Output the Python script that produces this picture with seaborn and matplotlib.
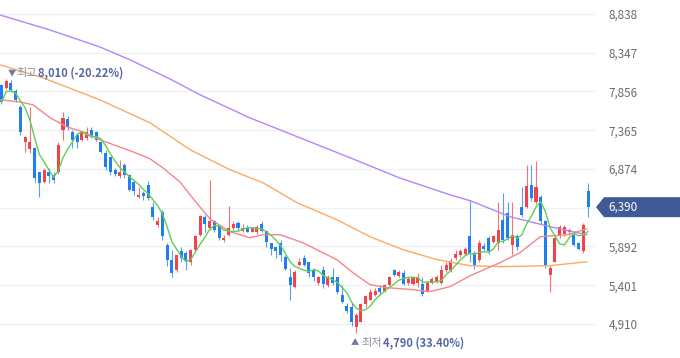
import numpy as np
import pandas as pd
import matplotlib
matplotlib.use("Agg")
import matplotlib.pyplot as plt
import matplotlib.transforms as mtransforms
from matplotlib.patches import Polygon
import seaborn as sns

# ---------------- data ----------------
opens = [7940, 7900, 7960, 7860, 7660, 7210, 7130, 7140, 6830, 6710,
         6840, 6800, 6840, 7370, 7510, 7340, 7310, 7240, 7270, 7370,
         7340, 7210, 7080, 7020, 6860, 6790, 6930, 6800, 6710, 6520,
         6570, 6670, 6390, 6170, 6330, 5910, 5720, 5590, 5830, 5810,
         5690, 5850, 6040, 6270, 6130, 6210, 6160, 5970, 6040, 6130,
         6190, 6090, 6130, 6080, 6070, 6180, 6090, 5930, 5880, 5940,
         5760, 5510, 5380, 5660, 5750, 5690, 5590, 5430, 5590, 5400,
         5500, 5500, 5280, 5140, 5120, 4870, 4940, 5160, 5220, 5280,
         5370, 5330, 5410, 5600, 5520, 5560, 5430, 5420, 5430, 5420,
         5330, 5430, 5450, 5430, 5590, 5590, 5750, 5780, 5800, 6020,
         5810, 5720, 5900, 6000, 5950, 5930, 6230, 6320, 5910, 6030,
         6390, 6390, 6670, 6450, 6520, 6210, 5530, 5700, 6030, 6050,
         6070, 6040, 5930, 5830, 6590]
highs = [7950, 8010, 8000, 7890, 7690, 7290, 7660, 7150, 6840, 6890,
         6890, 6830, 7210, 7600, 7550, 7370, 7330, 7360, 7400, 7410,
         7360, 7220, 7120, 7030, 6890, 6990, 6950, 6810, 6740, 6640,
         6600, 6720, 6450, 6260, 6360, 5930, 5850, 5790, 5890, 5830,
         5860, 6040, 6290, 6290, 6740, 6230, 6170, 6040, 6410, 6210,
         6210, 6180, 6160, 6140, 6170, 6210, 6100, 5940, 5890, 5970,
         5790, 5620, 5590, 5750, 5780, 5700, 5620, 5520, 5640, 5530,
         5620, 5510, 5410, 5170, 5180, 5050, 5180, 5280, 5350, 5360,
         5410, 5420, 5520, 5610, 5590, 5590, 5510, 5520, 5560, 5510,
         5450, 5510, 5530, 5660, 5690, 5740, 5850, 5860, 5890, 6480,
         5840, 5970, 5930, 6030, 6040, 6460, 6570, 6450, 6460, 6050,
         6640, 6930, 6930, 6970, 6550, 6230, 5660, 6030, 6160, 6170,
         6130, 6070, 5950, 6190, 6700]
lows = [7700, 7890, 7850, 7720, 7310, 7090, 7080, 6710, 6520, 6690,
        6700, 6700, 6810, 7240, 7370, 7140, 7140, 7230, 7240, 7270,
        7230, 7080, 6860, 6800, 6790, 6760, 6760, 6590, 6550, 6510,
        6480, 6480, 6230, 6140, 5980, 5640, 5510, 5570, 5700, 5600,
        5660, 5830, 6030, 6070, 6100, 6080, 5980, 5950, 6030, 6100,
        6090, 6070, 6070, 6070, 6050, 6070, 5890, 5780, 5740, 5710,
        5600, 5220, 5370, 5640, 5640, 5500, 5460, 5410, 5370, 5380,
        5410, 5290, 5180, 5050, 4890, 4790, 4930, 5130, 5210, 5260,
        5280, 5310, 5400, 5520, 5500, 5400, 5410, 5400, 5380, 5260,
        5320, 5420, 5430, 5420, 5570, 5570, 5720, 5760, 5790, 5690,
        5610, 5700, 5840, 5800, 5940, 5850, 5940, 5980, 5780, 5850,
        6270, 6380, 6470, 6430, 6180, 5620, 5310, 5690, 6000, 6030,
        6040, 5900, 5850, 5810, 6260]
closes = [7720, 7990, 7880, 7750, 7340, 7280, 7220, 6760, 6700, 6860,
          6780, 6740, 7180, 7520, 7410, 7240, 7220, 7340, 7340, 7280,
          7240, 7090, 6900, 6830, 6810, 6840, 6800, 6610, 6590, 6550,
          6530, 6510, 6260, 6210, 6030, 5720, 5560, 5780, 5740, 5710,
          5850, 6020, 6280, 6180, 6210, 6100, 6000, 6000, 6130, 6180,
          6120, 6130, 6080, 6130, 6140, 6090, 5950, 5860, 5830, 5780,
          5610, 5410, 5570, 5700, 5660, 5550, 5500, 5500, 5420, 5510,
          5430, 5320, 5190, 5080, 4930, 5030, 5160, 5260, 5320, 5330,
          5310, 5410, 5500, 5530, 5570, 5420, 5480, 5500, 5510, 5290,
          5430, 5480, 5510, 5590, 5660, 5710, 5800, 5840, 5860, 5800,
          5660, 5940, 5860, 5830, 6020, 6100, 5980, 6000, 6040, 5880,
          6290, 6660, 6500, 6640, 6210, 5660, 5620, 6000, 6140, 6140,
          6100, 5910, 5860, 6160, 6390]

# moving-average lines (position in candle index, value)
ma20_pos = [-0.3, 3.9, 6.7, 10.3, 13.8, 17.2, 20.8, 27.8, 31.4, 34.1, 37.7, 41.3,
            44.1, 48.3, 52.5, 55.3, 58.9, 63.7, 70.9, 74.3, 77.9, 81.5, 87.0, 90.6,
            94.8, 99.1, 105.4, 109.6, 113.9, 116.6, 119.6, 123.8]
ma20_val = [7750, 7724, 7686, 7522, 7408, 7345, 7243, 7092, 7003, 6889, 6712, 6440,
            6240, 6079, 6003, 6041, 6041, 5940, 5725, 5560, 5408, 5370, 5345, 5320,
            5383, 5522, 5687, 5813, 6016, 6028, 6041, 6117]
ma60_pos = [-0.3, 8.8, 20.8, 31.4, 39.9, 48.3, 55.3, 62.5, 70.9, 77.9, 84.9, 92.1,
            99.0, 105.4, 116.0, 123.8]
ma60_val = [8193, 8028, 7750, 7459, 7117, 6864, 6699, 6446, 6231, 6016, 5851, 5725,
            5649, 5636, 5649, 5699]
ma120_pos = [-0.3, 10.25, 20.8, 27.2, 35.6, 42.0, 52.5, 63.1, 73.7, 84.2, 94.8, 99.1,
             107.5, 116.0, 123.8]
ma120_val = [8825, 8635, 8420, 8256, 8015, 7813, 7522, 7269, 7016, 6760, 6547, 6472,
             6269, 6142, 6041]

ytick_vals = [4910, 5401, 5892, 6383, 6874, 7365, 7856, 8347, 8838]
# the 6,383 label sits under the last-price tag in the reference, so it is not shown
ytick_labels = ["4,910", "5,401", "5,892", "", "6,874", "7,365", "7,856", "8,347", "8,838"]
last_price = 6390
last_label = "6,390"
high_text = "8,010 (-20.22%)"
low_text = "4,790 (33.40%)"

# ---------------- style ----------------
RED = "#f0434a"
BLUE = "#1f7fef"
C_MA5 = "#5fcf55"
C_MA20 = "#f7858a"
C_MA60 = "#fcaa62"
C_MA120 = "#b585f7"

sns.set_theme(style="white")
plt.rcParams['font.family'] = ['Noto Sans CJK KR', 'DejaVu Sans']

W, H = 680, 358
fig = plt.figure(figsize=(W / 100, H / 100), dpi=100)
AX_RIGHT = 596
ax = fig.add_axes([0, 0, AX_RIGHT / W, 1])

df = pd.DataFrame({"open": opens, "high": highs, "low": lows, "close": closes})
df["idx"] = np.arange(len(df))
df["ma5"] = df["close"].rolling(5, min_periods=1).mean()
up = df["close"] >= df["open"]
colors = np.where(up, RED, BLUE)

ymin, ymax = 4479, 9015
ax.set_ylim(ymin, ymax)
ax.set_xlim(-0.317, (AX_RIGHT - 1.5) / 4.73)

# grid
for v in ytick_vals:
    ax.axhline(v, color="#eef0f6", linewidth=0.9, zorder=0)

# wicks and bodies
ax.vlines(df["idx"], df["low"], df["high"], colors=colors, linewidth=0.8, alpha=0.75, zorder=2)
body_low = np.minimum(df["open"], df["close"])
body_h = np.maximum((df["close"] - df["open"]).abs(), 18)
ax.bar(df["idx"], body_h, bottom=body_low, width=0.64, color=colors, linewidth=0, zorder=3)

# moving averages
sns.lineplot(x=ma120_pos, y=ma120_val, ax=ax, color=C_MA120, linewidth=1.0, zorder=4)
sns.lineplot(x=ma60_pos, y=ma60_val, ax=ax, color=C_MA60, linewidth=1.0, zorder=4)
sns.lineplot(x=ma20_pos, y=ma20_val, ax=ax, color=C_MA20, linewidth=1.0, zorder=4)
sns.lineplot(x=df["idx"], y=df["ma5"], ax=ax, color=C_MA5, linewidth=1.0, zorder=5)

# axes styling
for s in ax.spines.values():
    s.set_visible(False)
ax.set_xticks([])
ax.yaxis.tick_right()
ax.set_yticks(ytick_vals, ytick_labels)
ax.tick_params(axis="y", length=0, pad=9, labelsize=8.4, labelcolor="#6b6b6b")
ax.set_xlabel("")
ax.set_ylabel("")

# last price tag
blend = mtransforms.blended_transform_factory(fig.transFigure, ax.transData)
hh = 10 / (H / (ymax - ymin))
tag = Polygon([(AX_RIGHT / W, last_price), (604 / W, last_price + hh), (1.0, last_price + hh),
               (1.0, last_price - hh), (604 / W, last_price - hh)],
              closed=True, transform=blend, facecolor="#3f5b97", edgecolor="none",
              clip_on=False, zorder=10)
fig.add_artist(tag)
fig.text(608 / W, last_price, last_label, transform=blend, color="white",
         fontsize=8.4, va="center", ha="left", zorder=11)

# high / low annotations
hy = 1 - 73 / H
fig.text(8 / W, hy, "▼", fontsize=6, color="#6f7ba0", va="center", ha="left")
fig.text(16 / W, hy, "최고", fontsize=8, color="#8a8fa3", va="center", ha="left")
fig.text(38 / W, hy, high_text, fontsize=8, color="#5567a3", fontweight="bold",
         va="center", ha="left")
ly = 1 - 343 / H
fig.text(351 / W, ly, "▲", fontsize=6, color="#6f7ba0", va="center", ha="left")
fig.text(361 / W, ly, "최저", fontsize=8, color="#8a8fa3", va="center", ha="left")
fig.text(383 / W, ly, low_text, fontsize=8, color="#5567a3", fontweight="bold",
         va="center", ha="left")

fig.savefig("out.png", dpi=100)
